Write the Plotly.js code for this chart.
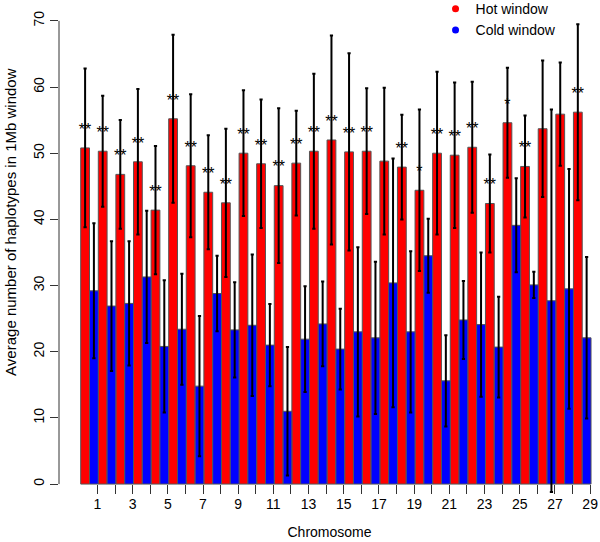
<!DOCTYPE html>
<html>
<head>
<meta charset="utf-8">
<script src="https://cdn.plot.ly/plotly-3.0.1.min.js"></script>
<style>html,body{margin:0;padding:0;background:#fff;}#chart{width:600px;height:542px;}</style>
</head>
<body>
<div id="chart"></div>
<script>
var chromosomes = [1,2,3,4,5,6,7,8,9,10,11,12,13,14,15,16,17,18,19,20,21,22,23,24,25,26,27,28,29];
var hotMean = [50.8,50.3,46.8,48.7,41.4,55.2,48.1,44.1,42.5,50.0,48.4,45.1,48.5,50.3,52.0,50.2,50.3,48.8,47.9,44.4,50.0,49.7,50.9,42.4,54.6,48.0,53.7,55.9,56.2];
var hotSD = [12.0,8.4,8.2,11.0,9.7,12.7,10.8,8.6,11.2,9.5,9.7,11.7,7.9,11.7,15.8,14.9,9.5,11.1,7.9,12.2,12.3,11.0,9.9,7.4,8.3,7.7,10.3,7.8,13.3];
var coldMean = [29.2,26.9,27.3,31.3,20.8,23.4,14.8,28.8,23.3,24.0,21.0,11.0,21.9,24.2,20.4,23.0,22.1,30.4,23.0,34.5,15.6,24.8,24.1,20.7,39.1,30.1,27.7,29.5,22.1];
var coldSD = [10.2,9.8,9.4,10.0,10.0,8.4,10.6,5.7,7.2,10.7,6.2,9.7,8.0,6.4,6.1,12.8,11.5,18.8,12.2,5.6,6.9,5.9,10.9,7.6,7.1,2.0,28.9,18.1,12.2];
var significance = ["**","**","**","**","**","**","**","**","**","**","**","**","**","**","**","**","**","","**","*","**","**","**","**","*","**","","","**"];
var tickLabels = ["1","","3","","5","","7","","9","","11","","13","","15","","17","","19","","21","","23","","25","","27","","29"];
var yTicks = [0,10,20,30,40,50,60,70];
var xTitle = 'Chromosome';
var yTitle = 'Average number of haplotypes in 1Mb window';

var FONT = "Liberation Sans, Arial, Helvetica, sans-serif";
var errStyle = {type:'data', visible:true, color:'#000', thickness:2, width:1.6};

var hotTrace = {
  type:'bar', name:'Hot window', x:chromosomes, y:hotMean, showlegend:false,
  marker:{color:'#ff0000', line:{color:'#555', width:1}},
  error_y:Object.assign({array:hotSD}, errStyle)
};
var coldTrace = {
  type:'bar', name:'Cold window', x:chromosomes, y:coldMean, showlegend:false,
  marker:{color:'#0000ff', line:{color:'#555', width:1}},
  error_y:Object.assign({array:coldSD}, errStyle)
};
var starTrace = {
  type:'scatter', mode:'text', showlegend:false, hoverinfo:'skip',
  x:chromosomes.map(function(c){return c-0.25;}),
  y:hotMean.map(function(v){return v+2.6;}),
  text:significance, textposition:'middle center', cliponaxis:false,
  textfont:{family:FONT, size:16, color:'#000000'}
};
var legHot = {type:'scatter', mode:'markers', name:'Hot window', x:[null], y:[null],
  marker:{color:'#ff0000', size:7, symbol:'circle'}};
var legCold = {type:'scatter', mode:'markers', name:'Cold window', x:[null], y:[null],
  marker:{color:'#0000ff', size:7, symbol:'circle'}};

var layout = {
  width:600, height:542,
  margin:{l:59, r:0, t:1, b:48, pad:0, autoexpand:false},
  paper_bgcolor:'#fff', plot_bgcolor:'#fff',
  font:{family:FONT, size:14, color:'#000'},
  barmode:'group', bargap:0, bargroupgap:0,
  showlegend:true,
  legend:{x:0.696, y:1.016, xanchor:'left', yanchor:'top', bgcolor:'rgba(0,0,0,0)',
    borderwidth:0, font:{family:FONT, size:14, color:'#000'}, tracegroupgap:0},
  xaxis:{
    range:[-0.733, 30.01], showgrid:false, zeroline:false, showline:false, automargin:false,
    tickmode:'array', tickvals:chromosomes.map(function(c){return c+0.45;}), ticktext:tickLabels,
    ticks:'inside', ticklen:9, tickwidth:1, tickcolor:'#333',
    tickfont:{family:FONT, size:14, color:'#000'},
    title:{text:xTitle, font:{family:FONT, size:14, color:'#000'}, standoff:16}
  },
  yaxis:{
    range:[-1.5, 73], showgrid:false, zeroline:false, showline:false, automargin:false,
    tickmode:'array', tickvals:yTicks, ticktext:yTicks.map(String), tickangle:-90,
    ticks:'outside', ticklen:8, tickwidth:1, tickcolor:'#333',
    tickfont:{family:FONT, size:14, color:'#000'}
  },
  annotations:[{text:yTitle, xref:'paper', yref:'paper', x:-0.0887, y:0.552,
    xanchor:'center', yanchor:'middle', textangle:-90, showarrow:false,
    font:{family:FONT, size:15, color:'#000'}}],
  shapes:[{type:'line', xref:'paper', yref:'y', x0:0, x1:0, y0:yTicks[0], y1:yTicks[yTicks.length-1],
    line:{color:'#333', width:1}}]
};

Plotly.newPlot('chart', [hotTrace, coldTrace, starTrace, legHot, legCold], layout, {displayModeBar:false, staticPlot:true});
</script>
</body>
</html>
